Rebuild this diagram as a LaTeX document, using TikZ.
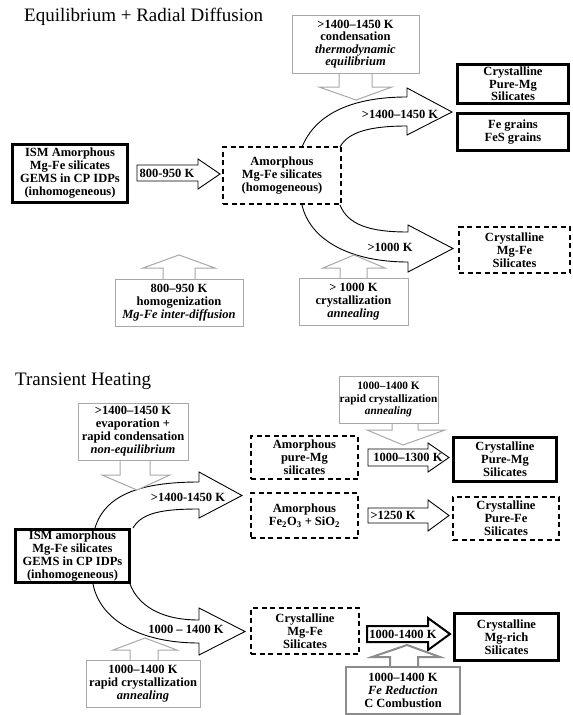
\documentclass[tikz,border=0pt]{standalone}
\usepackage{fontspec}
\setmainfont{Liberation Serif}
\definecolor{boxgray}{HTML}{A8A8A8}
\definecolor{darkgray}{HTML}{8C8C8C}
\begin{document}
\begin{tikzpicture}[x=1pt,y=-1pt,
  lbl/.style={font=\bfseries\fontsize{12.5}{13}\selectfont, align=center, inner sep=0pt},
  thickbox/.style={lbl, draw, line width=3pt, fill=white},
  dashbox/.style={lbl, draw, line width=1.1pt, dash pattern=on 5pt off 3.5pt, fill=white},
  graybox/.style={lbl, draw=boxgray, line width=1pt, fill=white},
  grayarrow/.style={draw=boxgray, line width=1pt, fill=white, line join=miter},
  blockarrow/.style={draw, line width=0.9pt, fill=white, line join=miter},
  curvearrow/.style={draw, line width=0.9pt, line join=miter},
  titletext/.style={font=\fontsize{19}{22}\selectfont, anchor=base west, inner sep=0pt},
]
\useasboundingbox[fill=white] (0,0) rectangle (573,715);

% ---------- Section 1 ----------
\node[titletext] (t1) at (24,21) {Equilibrium + Radial Diffusion};

% curved arrow up
\fill[white] (302,147) .. controls (315,115) and (350,97) .. (407,97) -- (407,88) -- (452,112) -- (407,135) -- (407,126) .. controls (370,126) and (348,132) .. (340,147) -- cycle;
\draw[curvearrow] (302,147) .. controls (315,115) and (350,97) .. (407,97) -- (407,88) -- (452,112) -- (407,135) -- (407,126) .. controls (370,126) and (348,132) .. (340,147);
% curved arrow down
\fill[white] (340,205) .. controls (348,225) and (370,232) .. (408,232) -- (408,225) -- (453,248.5) -- (408,272) -- (408,262) .. controls (350,262) and (310,240) .. (302,205) -- cycle;
\draw[curvearrow] (340,205) .. controls (348,225) and (370,232) .. (408,232) -- (408,225) -- (453,248.5) -- (408,272) -- (408,262) .. controls (350,262) and (310,240) .. (302,205);

\node[lbl] (l1) at (400,114) {>1400–1450 K};
\node[lbl] (l2) at (390,247) {>1000 K};

\node[thickbox, minimum width=115pt, minimum height=58pt] (ism1) at (70,173.5)
  {ISM Amorphous\\Mg-Fe silicates\\GEMS in CP IDPs\\(inhomogeneous)};
\node[dashbox, minimum width=118pt, minimum height=57pt] (am1) at (282,175.5)
  {Amorphous\\Mg-Fe silicates\\(homogeneous)};

% straight arrow 800-950 K
\draw[blockarrow] (137,165) -- (198,165) -- (198,159) -- (220,174) -- (198,189) -- (198,181) -- (137,181) -- cycle;
\node[lbl] (l3) at (167,173) {800-950 K};

\node[thickbox, minimum width=111pt, minimum height=39pt, font=\bfseries\fontsize{12.5}{12.5}\selectfont] (cpm1) at (513,84)
  {Crystalline\\Pure-Mg\\Silicates};
\node[thickbox, minimum width=111pt, minimum height=37pt] (fe1) at (513,132)
  {Fe grains\\FeS grains};
\node[dashbox, minimum width=111pt, minimum height=46pt] (cmf1) at (514.5,250)
  {Crystalline\\Mg-Fe\\Silicates};

% gray boxes section 1
\draw[grayarrow] (339,73) -- (339,87) -- (319,87) -- (356,100) -- (392,87) -- (372,87) -- (372,73);
\node[graybox, minimum width=127pt, minimum height=58pt, font=\bfseries\fontsize{12.5}{12.5}\selectfont] (g1) at (355.5,44)
  {>1400–1450 K\\condensation\\\textit{thermodynamic}\\\textit{equilibrium}};
\draw[grayarrow] (163,279) -- (163,268) -- (143,268) -- (179,255) -- (215,268) -- (195,268) -- (195,279);
\node[graybox, minimum width=128pt, minimum height=47pt] (g2) at (179,302.5)
  {800–950 K\\homogenization\\\textit{Mg-Fe inter-diffusion}};
\draw[grayarrow] (340,278) -- (340,268) -- (323,268) -- (354,255) -- (385,268) -- (367,268) -- (367,278);
\node[graybox, minimum width=109pt, minimum height=47pt] (g3) at (353.5,301.5)
  {> 1000 K\\crystallization\\\textit{annealing}};

% ---------- Section 2 ----------
\node[titletext] (t2) at (15,385) {Transient Heating};

% curved arrow up
\fill[white] (95,528) .. controls (105,495) and (140,482) .. (199,482) -- (199,472) -- (242,495.5) -- (199,518) -- (199,509) .. controls (165,509) and (142,512) .. (133,528) -- cycle;
\draw[curvearrow] (95,528) .. controls (105,495) and (140,482) .. (199,482) -- (199,472) -- (242,495.5) -- (199,518) -- (199,509) .. controls (165,509) and (142,512) .. (133,528);
% curved arrow down
\fill[white] (130,584) .. controls (138,605) and (160,620) .. (199,620) -- (199,608) -- (245,631.5) -- (199,655) -- (199,643) .. controls (140,643) and (100,620) .. (93,584) -- cycle;
\draw[curvearrow] (130,584) .. controls (138,605) and (160,620) .. (199,620) -- (199,608) -- (245,631.5) -- (199,655) -- (199,643) .. controls (140,643) and (100,620) .. (93,584);

\node[lbl] (l4) at (188,497) {>1400-1450 K};
\node[lbl] (l5) at (186,629) {1000 – 1400 K};

\node[thickbox, minimum width=114pt, minimum height=53pt, font=\bfseries\fontsize{12.5}{12.8}\selectfont] (ism2) at (72.5,556)
  {ISM amorphous\\Mg-Fe silicates\\GEMS in CP IDPs\\(inhomogeneous)};

\node[dashbox, minimum width=107pt, minimum height=43pt] (apm) at (304.5,457.5)
  {Amorphous\\pure-Mg\\silicates};
\node[dashbox, minimum width=107pt, minimum height=45pt] (afe) at (304.5,515.5)
  {Amorphous\\Fe\textsubscript{2}O\textsubscript{3} + SiO\textsubscript{2}};

\draw[blockarrow] (368,449) -- (428,449) -- (428,443) -- (449,457.5) -- (428,472) -- (428,466) -- (368,466) -- cycle;
\node[lbl] (l6) at (408,457.5) {1000–1300 K};
\draw[blockarrow] (368,508) -- (428,508) -- (428,500) -- (449,515.5) -- (428,531) -- (428,523) -- (368,523) -- cycle;
\node[lbl] (l7) at (393,515.5) {>1250 K};

\node[thickbox, minimum width=103pt, minimum height=44pt] (cpm2) at (505,459.5)
  {Crystalline\\Pure-Mg\\Silicates};
\node[dashbox, minimum width=106pt, minimum height=43pt] (cpf) at (506,518.5)
  {Crystalline\\Pure-Fe\\Silicates};

\node[dashbox, minimum width=108pt, minimum height=46pt] (cmf2) at (305,631)
  {Crystalline\\Mg-Fe\\Silicates};
\draw[blockarrow, line width=2pt] (367,626) -- (428,626) -- (428,618) -- (450,634) -- (428,650) -- (428,642) -- (367,642) -- cycle;
\node[lbl] (l8) at (403,634) {1000-1400 K};
\node[thickbox, minimum width=104pt, minimum height=47pt] (cmr) at (506.5,637)
  {Crystalline\\Mg-rich\\Silicates};

% gray boxes section 2
\draw[grayarrow] (120,460) -- (120,475) -- (102,475) -- (137,490) -- (170,475) -- (150,475) -- (150,460);
\node[graybox, minimum width=110pt, minimum height=57pt] (g4) at (133,431.5)
  {>1400–1450 K\\evaporation +\\rapid condensation\\\textit{non-equilibrium}};
\draw[grayarrow] (392,423) -- (392,430) -- (367,430) -- (403,445) -- (445,430) -- (418,430) -- (418,423);
\node[graybox, minimum width=99pt, minimum height=47pt, font=\bfseries\fontsize{11.3}{12.5}\selectfont] (g5) at (388.5,399.5)
  {1000–1400 K\\rapid crystallization\\\textit{annealing}};
\draw[grayarrow] (130,660) -- (130,650) -- (113,650) -- (145,638) -- (177,650) -- (158,650) -- (158,660);
\node[graybox, minimum width=114pt, minimum height=47pt] (g6) at (143,683.5)
  {1000–1400 K\\rapid crystallization\\\textit{annealing}};
\draw[grayarrow, draw=darkgray, line width=2pt] (390,667) -- (390,657) -- (372,657) -- (407,645) -- (440,657) -- (418,657) -- (418,667);
\node[graybox, draw=darkgray, line width=2pt, minimum width=114pt, minimum height=47pt] (g7) at (403,690.5)
  {1000–1400 K\\\textit{Fe Reduction}\\C Combustion};
\end{tikzpicture}
\end{document}
